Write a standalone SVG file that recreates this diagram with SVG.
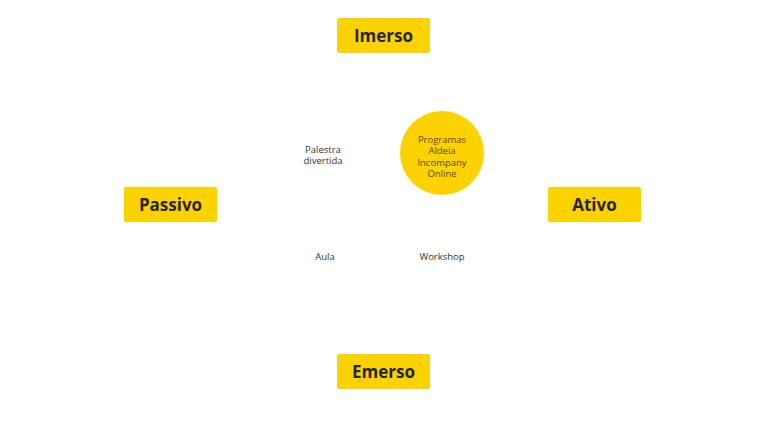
<svg xmlns="http://www.w3.org/2000/svg" width="768" height="432" viewBox="0 0 768 432">
<style>
.bt{font-family:"Open Sans","DejaVu Sans",sans-serif;font-weight:700;font-size:17px;fill:#262626;text-anchor:middle}
.t{font-family:"Open Sans","DejaVu Sans",sans-serif;font-size:9.5px;fill:#333;text-anchor:middle}
.ct{font-family:"Open Sans","DejaVu Sans",sans-serif;font-size:9.5px;fill:#5a4a00;text-anchor:middle}
</style>
<rect width="768" height="432" fill="#fff"/>
<g id="imerso"><rect fill="#FDD201" x="337" y="18" width="93" height="35" rx="2"/><text class="bt" x="383.5" y="41.5">Imerso</text></g>
<g id="passivo"><rect fill="#FDD201" x="124" y="187" width="93" height="35" rx="2"/><text class="bt" x="170.5" y="210.5">Passivo</text></g>
<g id="ativo"><rect fill="#FDD201" x="548" y="187" width="93" height="35" rx="2"/><text class="bt" x="594.5" y="210.5">Ativo</text></g>
<g id="emerso"><rect fill="#FDD201" x="337" y="354" width="93" height="35" rx="2"/><text class="bt" x="383.5" y="377.5">Emerso</text></g>
<g id="programas"><circle cx="442" cy="153" r="42" fill="#FDD201"/>
<text class="ct" x="442" y="142.5">Programas</text><text class="ct" x="442" y="154">Aldeia</text><text class="ct" x="442" y="165.5">Incompany</text><text class="ct" x="442" y="177">Online</text></g>
<g id="palestra"><text class="t" x="323" y="152.5">Palestra</text><text class="t" x="323" y="164">divertida</text></g>
<g id="aula"><text class="t" x="325" y="260">Aula</text></g>
<g id="workshop"><text class="t" x="442" y="260">Workshop</text></g>
<g id="connectors"></g>
</svg>
